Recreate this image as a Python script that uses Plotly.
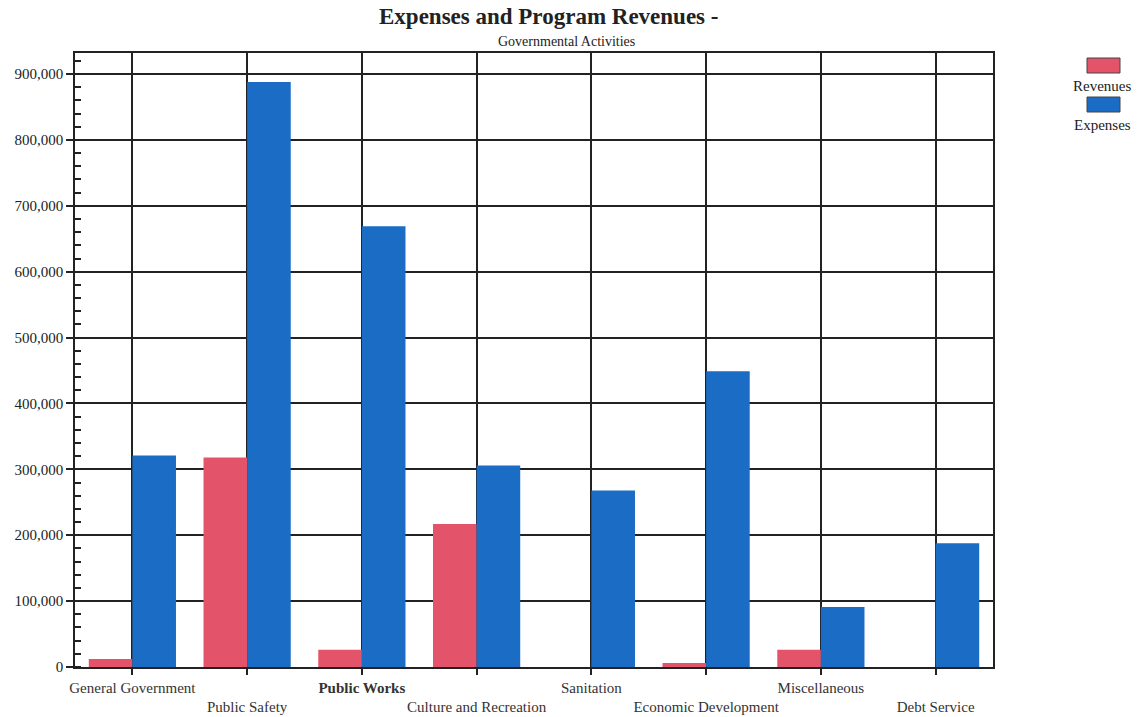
import plotly.graph_objects as go

categories = ["General Government", "Public Safety", "Public Works", "Culture and Recreation",
              "Sanitation", "Economic Development", "Miscellaneous", "Debt Service"]
revenues = [12000, 318000, 26000, 217000, 0, 6000, 26000, 0]
expenses = [321000, 888000, 669000, 306000, 268000, 449000, 91000, 188000]
tick_labels = ["General Government", "<br>Public Safety", "<b>Public Works</b>", "<br>Culture and Recreation",
               "Sanitation", "<br>Economic Development", "Miscellaneous", "<br>Debt Service"]
y_ticks = [0, 100000, 200000, 300000, 400000, 500000, 600000, 700000, 800000, 900000]

RED = "#E3546A"
BLUE = "#1A6CC4"
FONT = "Liberation Serif"

L, T, PW, PH = 75, 53, 918, 614


def px(x):
    return (x - L) / PW


def py(y):
    return 1 - (y - T) / PH


fig = go.Figure()
fig.add_trace(go.Bar(name="Revenues", x=list(range(len(categories))), y=revenues,
                     marker=dict(color=RED, line=dict(width=0)), offset=-0.38, width=0.38))
fig.add_trace(go.Bar(name="Expenses", x=list(range(len(categories))), y=expenses,
                     marker=dict(color=BLUE, line=dict(width=0)), offset=0.0, width=0.38))

fig.update_layout(
    width=1138, height=717,
    margin=dict(l=L, r=1138 - L - PW, t=T, b=717 - T - PH, autoexpand=False),
    paper_bgcolor="white", plot_bgcolor="white",
    font=dict(family=FONT, color="#222", size=12),
    showlegend=False,
    barmode="group",
)
fig.update_xaxes(
    range=[-0.5, 7.5], automargin=False, tickangle=0,
    tickmode="array", tickvals=list(range(len(categories))), ticktext=tick_labels,
    showgrid=True, gridcolor="#222", gridwidth=1.5,
    showline=True, linecolor="#222", linewidth=1.5, mirror=True,
    ticks="outside", ticklen=6, tickwidth=2, tickcolor="#222",
    tickfont=dict(family=FONT, size=15, color="#333"),
    zeroline=False,
)
fig.update_yaxes(
    range=[0, 932000], automargin=False,
    tickmode="array", tickvals=y_ticks, ticktext=[f"{v:,}" for v in y_ticks],
    showgrid=True, gridcolor="#222", gridwidth=1.5,
    showline=True, linecolor="#222", linewidth=1.5, mirror=True,
    ticks="outside", ticklen=7, tickwidth=1.5, tickcolor="#222",
    tickfont=dict(family=FONT, size=15, color="#222"),
    zeroline=False,
    minor=dict(dtick=20000, ticks="inside", ticklen=6, tickcolor="#222", tickwidth=1.5, showgrid=False),
)

# Title and subtitle
fig.add_annotation(text="<b>Expenses and Program Revenues -</b>", xref="paper", yref="paper",
                   x=px(548), y=py(17), showarrow=False,
                   font=dict(family=FONT, size=23, color="#222"), xanchor="center", yanchor="middle")
fig.add_annotation(text="Governmental Activities", xref="paper", yref="paper",
                   x=px(566), y=py(42), showarrow=False,
                   font=dict(family=FONT, size=14, color="#222"), xanchor="center", yanchor="middle")

# Custom legend (swatch above label)
legend_items = [("Revenues", RED), ("Expenses", BLUE)]
for i, (name, col) in enumerate(legend_items):
    y_top = 58 + i * 39
    fig.add_shape(type="rect", xref="paper", yref="paper",
                  x0=px(1087), x1=px(1120), y0=py(y_top + 15), y1=py(y_top),
                  fillcolor=col, line=dict(color="#444", width=1))
    fig.add_annotation(text=name, xref="paper", yref="paper",
                       x=px(1102), y=py(y_top + 28),
                       showarrow=False, font=dict(family=FONT, size=15, color="#222"),
                       xanchor="center", yanchor="middle")

fig.write_html("out.html")
